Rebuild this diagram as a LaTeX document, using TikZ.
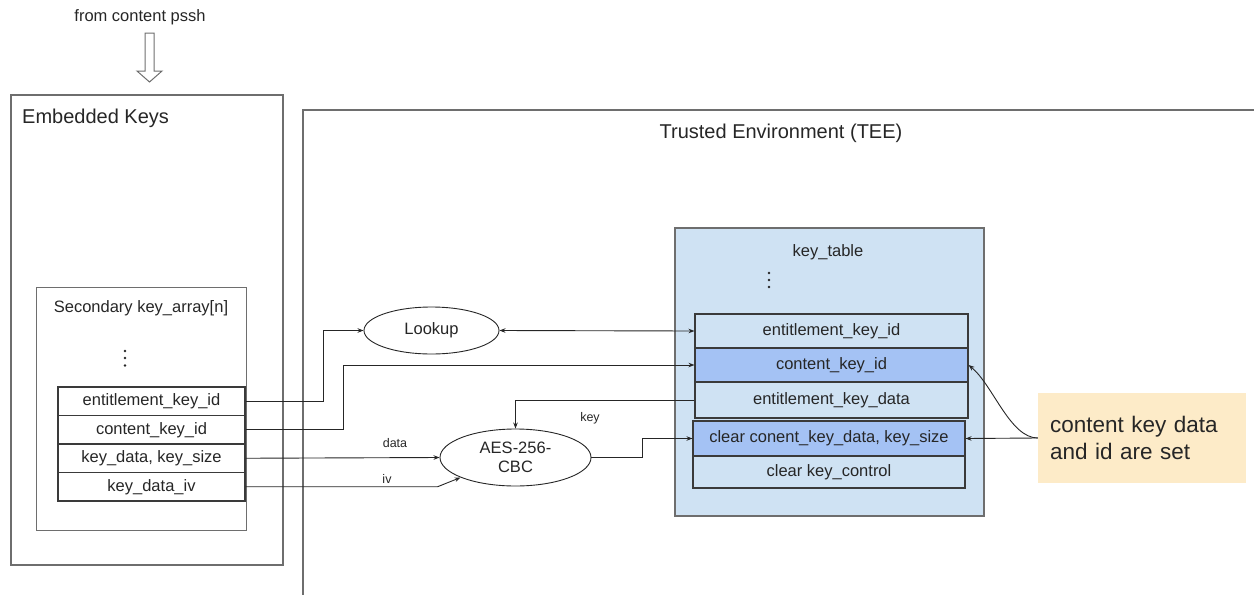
\documentclass[tikz,border=0pt]{standalone}
\usepackage{fontspec}
\setmainfont{Liberation Sans}
\usetikzlibrary{arrows.meta,shapes.geometric}
\definecolor{lblue}{HTML}{CFE2F3}
\definecolor{mblue}{HTML}{A4C2F4}
\definecolor{notey}{HTML}{FDEBC8}
\definecolor{ink}{HTML}{262626}
\definecolor{frame}{HTML}{6E6E6E}
\definecolor{rowline}{HTML}{3A3A3A}
\begin{document}
\begin{tikzpicture}[x=1pt,y=-1pt,
  every node/.style={text=ink},
  bodyfont/.style={font=\fontsize{16.5}{19}\selectfont},
  smallfont/.style={font=\fontsize{12.5}{15}\selectfont},
  titlefont/.style={font=\fontsize{20}{24}\selectfont},
  notefont/.style={font=\fontsize{22.5}{27}\selectfont},
  conn/.style={draw=ink, line width=0.9pt},
  tipped/.style={-{Stealth[length=6pt,width=4.5pt]}},
  bothtipped/.style={{Stealth[length=6pt,width=4.5pt]}-{Stealth[length=6pt,width=4.5pt]}},
  panel/.style={draw=frame, line width=1.3pt, inner sep=0pt},
  innerpanel/.style={draw=frame, line width=1pt, inner sep=0pt},
  rowbox/.style={draw=rowline, line width=1.1pt, inner sep=0pt, bodyfont},
  oval/.style={ellipse, draw=ink, line width=0.9pt, fill=white, inner sep=0pt, bodyfont},
  dotmark/.style={fill=ink}
]
\useasboundingbox (0,0) rectangle (1254,595);

% incoming arrow
\node[bodyfont] (pssh) at (140,17) {from content pssh};
\draw[draw=frame, line width=1pt, line join=miter]
  (145,33) -- (154,33) -- (154,71) -- (162,71) -- (149.5,82) -- (137,71) -- (145,71) -- cycle;

% Embedded keys
\node[panel, minimum width=272, minimum height=470] (emb) at (147,330) {};
\node[titlefont, anchor=west, inner sep=0pt] (embt) at (22,118) {Embedded Keys};
\node[innerpanel, minimum width=210, minimum height=243] (sec) at (141,408.5) {};
\node[bodyfont] (sect) at (141,308) {Secondary key\_array[n]};
\fill[dotmark] (125,351) circle (1.3) (125,358) circle (1.3) (125,365.5) circle (1.3);

\node[rowbox, minimum width=187, minimum height=28.5] (ek1) at (151.5,401.25) {entitlement\_key\_id};
\node[rowbox, minimum width=187, minimum height=28.5] (ek2) at (151.5,429.75) {content\_key\_id};
\node[rowbox, minimum width=187, minimum height=28.5] (ek3) at (151.5,458.25) {key\_data, key\_size};
\node[rowbox, minimum width=187, minimum height=28.5] (ek4) at (151.5,486.75) {key\_data\_iv};

% TEE
\draw[draw=frame, line width=1.4pt] (1254,110) -- (303,110) -- (303,595);
\node[titlefont] (teet) at (781,133) {Trusted Environment (TEE)};

% key table
\node[draw=frame, line width=1.2pt, fill=lblue, minimum width=309, minimum height=288, inner sep=0pt] (kt) at (829.5,372) {};
\node[bodyfont] (ktt) at (828,252) {key\_table};
\fill[dotmark] (769,273) circle (1.3) (769,280) circle (1.3) (769,287) circle (1.3);

\node[rowbox, fill=lblue, minimum width=273, minimum height=34] (kt1) at (831.5,331) {entitlement\_key\_id};
\node[rowbox, fill=mblue, minimum width=273, minimum height=34] (kt2) at (831.5,365) {content\_key\_id};
\node[rowbox, fill=lblue, minimum width=273, minimum height=36] (kt3) at (831.5,400) {entitlement\_key\_data};
\node[rowbox, fill=mblue, minimum width=272, minimum height=35] (kt4) at (829,438.5) {clear conent\_key\_data, key\_size};
\node[rowbox, fill=lblue, minimum width=272, minimum height=32] (kt5) at (829,472) {clear key\_control};

% ellipses
\node[oval, minimum width=135, minimum height=47] (lookup) at (431.5,330.5) {Lookup};
\node[oval, minimum width=151, minimum height=57, align=center, font=\fontsize{16.5}{18.5}\selectfont] (aes) at (515.5,457.5) {AES-256-\\CBC};

% connectors
\draw[conn, tipped] (ek1.east) -- ++(78,0) |- (lookup.west);
\draw[conn, tipped] (ek2.east) -- ++(98,0) |- (kt2.west);
\draw[conn, bothtipped] (lookup.east) -- (kt1.west);
\draw[conn, tipped] (kt3.west) -| (aes.north);
\draw[conn, tipped] (ek3.east) -- (aes.west);
\draw[conn, tipped] (ek4.east) -- ++(192,0) -- (aes.200);
\draw[conn, tipped] (aes.east) -- ++(51,0) |- (kt4.west);

\node[smallfont] (lkey) at (590,418) {key};
\node[smallfont] (ldata) at (395,443) {data};
\node[smallfont] (liv) at (387,479) {iv};

% note
\node[fill=notey, minimum height=90, text width=184, inner xsep=12pt, inner ysep=0pt, align=left, notefont] (note) at (1142,438) {content key data\\and id are set};
\draw[conn, tipped] (note.west) -- (kt4.east);
\draw[conn, tipped] (note.west) .. controls (1010,438) and (993,385) .. (kt2.east);
\end{tikzpicture}
\end{document}
